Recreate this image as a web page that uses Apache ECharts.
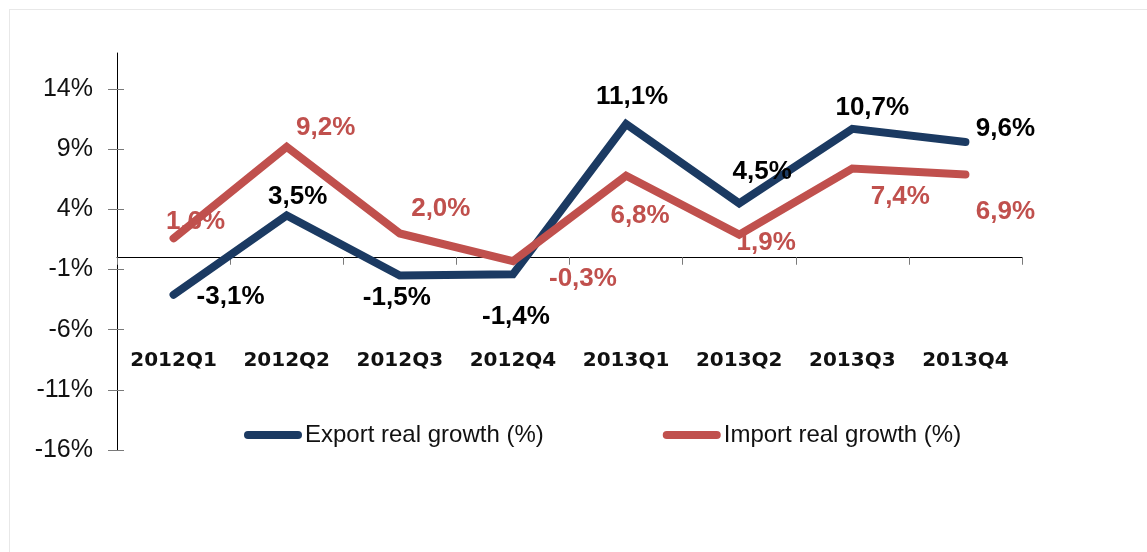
<!DOCTYPE html>
<html>
<head>
<meta charset="utf-8">
<title>Export and import real growth</title>
<script src="https://cdn.jsdelivr.net/npm/echarts@6/dist/echarts.min.js"></script>
<style>
  html, body { margin: 0; padding: 0; background: #ffffff; overflow: hidden; }
  #frame { position: absolute; left: 9px; top: 9px; width: 1300px; height: 700px;
           border-left: 1px solid #e8e8e8; border-top: 1px solid #e8e8e8; }
  #chart { position: absolute; left: 0; top: 0; width: 1147px; height: 552px; }
</style>
</head>
<body>
<div id="frame"></div>
<div id="chart"></div>
<script>
// Quarterly data
const quarters = ['2012Q1', '2012Q2', '2012Q3', '2012Q4', '2013Q1', '2013Q2', '2013Q3', '2013Q4'];
const exportGrowth = [-3.1, 3.5, -1.5, -1.4, 11.1, 4.5, 10.7, 9.6];
const importGrowth = [1.6, 9.2, 2.0, -0.3, 6.8, 1.9, 7.4, 6.9];
const yTicks = [-16, -11, -6, -1, 4, 9, 14];

// Label placement relative to each point (pixels)
const exportLabelOffsets = [[57, 2], [11, -19], [-3, 22], [3, 42], [6, -27], [23, -32], [20, -21], [40, -13]];
const importLabelOffsets = [[22, -16], [39, -19], [41, -25], [70, 18], [14, 40], [27, 8], [48, 28], [40, 37]];

const NAVY = '#1b3a62';
const RED = '#c0504d';
const TICK = '#7a7a7a';
const FONT = '"Liberation Sans", Arial, sans-serif';

function fmt(v) {
  return v.toFixed(1).replace('.', ',') + '%';
}

function buildData(values, offsets) {
  return values.map((v, i) => ({ value: v, label: { offset: offsets[i] } }));
}

const chart = echarts.init(document.getElementById('chart'), null, { renderer: 'canvas' });

const yRange = { type: 'value', min: -16, max: 17, interval: 5, splitLine: { show: false } };

chart.setOption({
  animation: false,
  grid: { left: 117, right: 125, top: 53, bottom: 102, containLabel: false, outerBoundsMode: 'none' },
  legend: {
    left: 239, top: 418,
    itemWidth: 58, itemHeight: 8, itemGap: 119,
    icon: 'path://M4,0 H54 A4,4 0 0 1 54,8 H4 A4,4 0 0 1 4,0 Z',
    textStyle: { fontFamily: FONT, fontSize: 24, color: '#111', padding: [0, 0, 0, -2] },
    data: ['Export real growth (%)', 'Import real growth (%)']
  },
  xAxis: [{
    type: 'category', data: quarters, boundaryGap: true,
    axisLine: { onZero: true, onZeroAxisIndex: 0, lineStyle: { color: '#000', width: 1 } },
    axisTick: { show: true, length: 7, lineStyle: { color: TICK } },
    // category names sit in a band below the zero line
    axisLabel: {
      margin: -99, fontFamily: '"DejaVu Sans", sans-serif', fontWeight: 'bold',
      fontSize: 20, color: '#111'
    }
  }, {
    type: 'category', data: quarters, boundaryGap: true,
    axisLine: { show: false, onZero: true, onZeroAxisIndex: 0 },
    axisTick: { show: true, inside: true, length: 7, lineStyle: { color: TICK } },
    axisLabel: { show: false }
  }],
  yAxis: [Object.assign({}, yRange, {
    axisLine: { show: true, lineStyle: { color: '#000', width: 1 } },
    axisTick: { show: true, length: 9, customValues: yTicks, lineStyle: { color: TICK } },
    axisLabel: {
      customValues: yTicks, margin: 24, fontFamily: FONT, fontSize: 25, color: '#111',
      formatter: v => v + '%'
    }
  }), Object.assign({}, yRange, {
    position: 'left',
    axisLine: { show: false },
    axisTick: { show: true, inside: true, length: 7, customValues: yTicks, lineStyle: { color: TICK } },
    axisLabel: { show: false }
  })],
  series: [{
    name: 'Export real growth (%)', type: 'line',
    data: buildData(exportGrowth, exportLabelOffsets),
    symbol: 'circle', symbolSize: 2, showSymbol: true,
    itemStyle: { color: NAVY },
    lineStyle: { color: NAVY, width: 8, cap: 'round', join: 'miter' },
    label: {
      show: true, position: 'inside', formatter: p => fmt(p.value),
      fontFamily: FONT, fontWeight: 'bold', fontSize: 26, color: '#000'
    },
    z: 2
  }, {
    name: 'Import real growth (%)', type: 'line',
    data: buildData(importGrowth, importLabelOffsets),
    symbol: 'circle', symbolSize: 2, showSymbol: true,
    itemStyle: { color: RED },
    lineStyle: { color: RED, width: 8, cap: 'round', join: 'miter' },
    label: {
      show: true, position: 'inside', formatter: p => fmt(p.value),
      fontFamily: FONT, fontWeight: 'bold', fontSize: 26, color: RED
    },
    z: 3
  }]
});
</script>
</body>
</html>
